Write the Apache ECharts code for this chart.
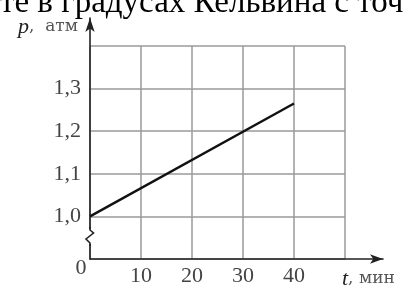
<!DOCTYPE html>
<html lang="ru">
<head>
    <meta charset="UTF-8">
    <title>p(t)</title>
    <style>
        html, body { margin: 0; padding: 0; background: #fff; }
        #main { width: 404px; height: 287px; }
    </style>
</head>
<body>
<div id="main"></div>
<script src="https://cdn.jsdelivr.net/npm/echarts@6/dist/echarts.min.js"></script>
<script>
// данные графика: время, мин и давление, атм
const tData = [0, 40];
const pData = [1.0, 1.265];

// деления осей
const tTicks = [10, 20, 30, 40];
const pTicks = [1.0, 1.1, 1.2, 1.3];

const serif = '"Liberation Serif", "DejaVu Serif", serif';
const wideSerif = '"DejaVu Serif", serif';
const gridColor = '#9a9a9a';
const axisColor = '#222';

const myChart = echarts.init(document.getElementById('main'));

// подписи осей: курсивная буква + единицы
const nameRich = {
    i: {fontFamily: serif, fontStyle: 'italic', fontSize: 22, color: '#222'},
    r: {fontFamily: wideSerif, fontSize: 17, color: '#555'}
};

const option = {
    animation: false,
    grid: [
        // сетка с данными
        {left: 90, right: 59, top: 46, bottom: 28, outerBoundsMode: 'none'},
        // оси со стрелками
        {left: 90, right: 21, top: 18, bottom: 28, outerBoundsMode: 'none'}
    ],
    xAxis: [
        {
            type: 'value', gridIndex: 0, min: 0, max: 50, interval: 10,
            axisLine: {show: false}, axisTick: {show: false},
            splitLine: {lineStyle: {color: gridColor, width: 1.5}},
            axisLabel: {
                margin: 6, color: '#444', fontFamily: serif, fontSize: 22,
                formatter: v => tTicks.includes(v) ? String(v) : ''
            }
        },
        {
            type: 'value', gridIndex: 1, min: 0, max: 1,
            axisLine: {
                show: true, symbol: ['none', 'arrow'], symbolSize: [7, 13],
                lineStyle: {color: axisColor, width: 1.6}
            },
            axisTick: {show: false}, axisLabel: {show: false}, splitLine: {show: false},
            name: '{i|t}{r|, мин}', nameLocation: 'end', nameGap: -41,
            nameTextStyle: {
                align: 'left', verticalAlign: 'middle', padding: [40, 0, 0, 0],
                rich: nameRich
            }
        }
    ],
    yAxis: [
        {
            type: 'value', gridIndex: 0, min: 0.9, max: 1.4, interval: 0.1,
            axisLine: {show: false}, axisTick: {show: false},
            splitLine: {lineStyle: {color: gridColor, width: 1.5}},
            axisLabel: {
                margin: 9, color: '#444', fontFamily: serif, fontSize: 22,
                formatter: v => pTicks.some(p => Math.abs(p - v) < 1e-6) ? v.toFixed(1).replace('.', ',') : ''
            }
        },
        {
            type: 'value', gridIndex: 1, min: 0, max: 1,
            axisLine: {
                show: true, symbol: ['none', 'arrow'], symbolSize: [7, 14],
                lineStyle: {color: axisColor, width: 1.6}
            },
            axisTick: {show: false}, axisLabel: {show: false}, splitLine: {show: false},
            name: '{i|p}{r|,  атм}', nameLocation: 'end', nameGap: -9,
            nameTextStyle: {
                align: 'right', verticalAlign: 'middle', padding: [0, 12, 0, 0],
                rich: nameRich
            }
        }
    ],
    series: [
        {
            type: 'line', xAxisIndex: 0, yAxisIndex: 0,
            data: tData.map((t, i) => [t, pData[i]]),
            symbol: 'none',
            lineStyle: {color: '#111', width: 2.4}
        }
    ],
    graphic: [
        // обрезанная строка текста сверху
        {
            type: 'text', left: 0, top: -13, z: 10,
            style: {text: 'те в градусах Кельвина с точ', font: '33px ' + serif, fill: '#000'}
        },
        // разрыв оси
        {type: 'rect', shape: {x: 85, y: 229, width: 10, height: 15}, style: {fill: '#fff'}, z: 10},
        {
            type: 'polyline', z: 11,
            shape: {points: [[90, 227], [90, 230], [93.5, 233], [86, 239], [90, 243], [90, 246]]},
            style: {stroke: axisColor, lineWidth: 1.6, fill: null}
        },
        // ноль у начала координат
        {
            type: 'text', x: 81, y: 268, z: 10,
            style: {text: '0', font: '22px ' + serif, fill: '#444', align: 'center', verticalAlign: 'middle'}
        }
    ]
};

myChart.setOption(option);
</script>
</body>
</html>
